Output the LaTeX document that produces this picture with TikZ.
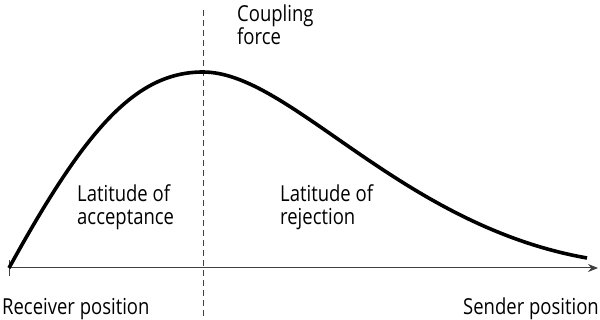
\documentclass[tikz,border=0pt]{standalone}
\usepackage{fontspec}
\setmainfont{Open Sans}[FakeStretch=0.84]
\usepackage{tikz}
\usetikzlibrary{arrows.meta, positioning}

\begin{document}
\begin{tikzpicture}[
    x=1pt, y=-1pt,
    lbl/.style={inner sep=0pt, anchor=base west, align=left, font=\fontsize{22}{23.5}\selectfont},
]
    \useasboundingbox (0, 0) rectangle (600, 320);

    % Axis
    \coordinate (origin) at (9, 268);
    \coordinate (axisend) at (598, 268);
    \draw[{Bar[width=16pt]}-{Stealth[length=10pt, width=8pt]}, black!75, line width=1pt] (origin) -- (axisend);

    % Divider at the peak
    \coordinate (top) at (203, 10);
    \coordinate (bottom) at (203, 320);
    \draw[dash pattern=on 6pt off 4pt, black!75, line width=0.9pt] (top) -- (bottom);

    % Coupling force curve
    \coordinate (peak) at (203, 72);
    \coordinate (tail) at (587, 258);
    \draw[line width=3.6pt] (origin) .. controls (85, 130) and (135, 72) .. (peak)
        .. controls (290, 72) and (400, 225) .. (tail);

    % Labels
    \node[lbl] (coupling) at (237, 45) {Coupling\\force};
    \node[lbl] (accept) at (77, 225) {Latitude of\\acceptance};
    \node[lbl] (reject) at (280, 225) {Latitude of\\rejection};
    \node[lbl] (receiver) at (2, 315) {Receiver position};
    \node[lbl, anchor=base east] (sender) at (599, 315) {Sender position};
\end{tikzpicture}
\end{document}
